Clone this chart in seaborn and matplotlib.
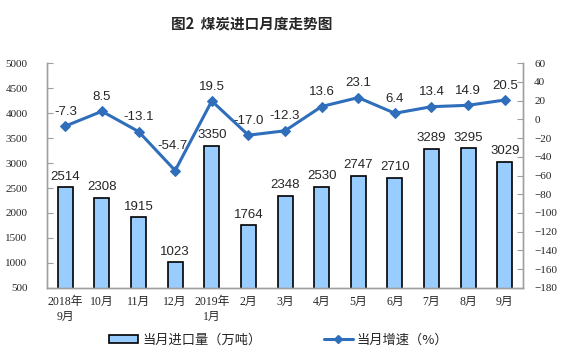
import matplotlib
matplotlib.use("Agg")
from matplotlib import pyplot as plt
from matplotlib.lines import Line2D
from matplotlib.patches import Patch
import numpy as np
import pandas as pd
import seaborn as sns

months = ['2018年\n9月', '10月', '11月', '12月', '2019年\n1月', '2月', '3月',
          '4月', '5月', '6月', '7月', '8月', '9月']
imports = [2514, 2308, 1915, 1023, 3350, 1764, 2348, 2530, 2747, 2710, 3289, 3295, 3029]
growth = [-7.3, 8.5, -13.1, -54.7, 19.5, -17.0, -12.3, 13.6, 23.1, 6.4, 13.4, 14.9, 20.5]

bar_color = '#99CCFF'
line_color = '#2F6EBA'
axis_gray = '#A0A0A0'

sns.set_style('white')
plt.rcParams['font.family'] = ['Noto Sans CJK SC', 'DejaVu Sans']
tick_font = ['Liberation Serif', 'Noto Sans CJK SC']
num_font = ['Liberation Sans', 'DejaVu Sans']

df = pd.DataFrame({'pos': range(len(months)), 'month': months,
                   'imports': imports, 'growth': growth})

fig = plt.figure(figsize=(5.61, 3.57), dpi=100)
ax = fig.add_axes([0.0838, 0.1933, 0.8485, 0.6302])

sns.barplot(data=df, x='pos', y='imports', color=bar_color, width=0.41,
            edgecolor='black', linewidth=1.2, saturation=1, ax=ax, zorder=2)
ax.set_ylim(500, 5000)
ax.set_xlim(-0.5, len(months) - 0.5)
ax.set_yticks(np.arange(500, 5001, 500))
for i, v in enumerate(imports):
    ax.annotate(str(v), (i, v), xytext=(0, 3), textcoords='offset points',
                ha='center', va='bottom', fontsize=9.5, family=num_font)

ax2 = ax.twinx()
sns.lineplot(data=df, x='pos', y='growth', color=line_color, linewidth=2.2,
             marker='D', markersize=5, markeredgecolor=line_color, ax=ax2)
ax2.set_ylim(-180, 60)
ax2.set_yticks(np.arange(-180, 61, 20))
for i, v in enumerate(growth):
    # the deep dip label sits higher, clear of the line
    dx, dy = (-2, 13) if v < -50 else (0, 6)
    ax2.annotate(f'{v:.1f}', (i, v), xytext=(dx, dy), textcoords='offset points',
                 ha='center', va='bottom', fontsize=9.5, family=num_font)

ax.set_xticks(range(len(months)))
ax.set_xticklabels(months, fontsize=8.5, family=tick_font, linespacing=1.25)
ax.set_xticks(np.arange(-0.5, len(months), 1), minor=True)
ax.tick_params(axis='x', which='major', length=0, pad=6)
ax.tick_params(axis='x', which='minor', direction='in', length=3, color=axis_gray)
ax.tick_params(axis='y', direction='in', length=4, color=axis_gray, labelsize=8, pad=14)
ax2.tick_params(axis='y', direction='in', length=4, color=axis_gray, labelsize=8, pad=8)
for lab in ax.get_yticklabels() + ax2.get_yticklabels():
    lab.set_family(tick_font)
ax.set_xlabel('')
ax.set_ylabel('')
ax2.set_xlabel('')
ax2.set_ylabel('')

for a in (ax, ax2):
    a.spines['top'].set_visible(False)
    for s in ('left', 'right', 'bottom'):
        a.spines[s].set_color(axis_gray)
        a.spines[s].set_linewidth(1)

fig.text(0.448, 0.933, '图2  煤炭进口月度走势图', ha='center', va='center',
         fontsize=10.5, fontweight='bold')

handles = [Patch(facecolor=bar_color, edgecolor='black', linewidth=1.2),
           Line2D([0], [0], color=line_color, linewidth=2.2, marker='D', markersize=4)]
fig.legend(handles, ['当月进口量（万吨）', '当月增速（%）'], loc='center',
           bbox_to_anchor=(0.497, 0.048), ncol=2, frameon=False, fontsize=9.5,
           handlelength=2.2, handleheight=0.6, handletextpad=0.3, columnspacing=4.7)

fig.savefig('out.png', dpi=100)
